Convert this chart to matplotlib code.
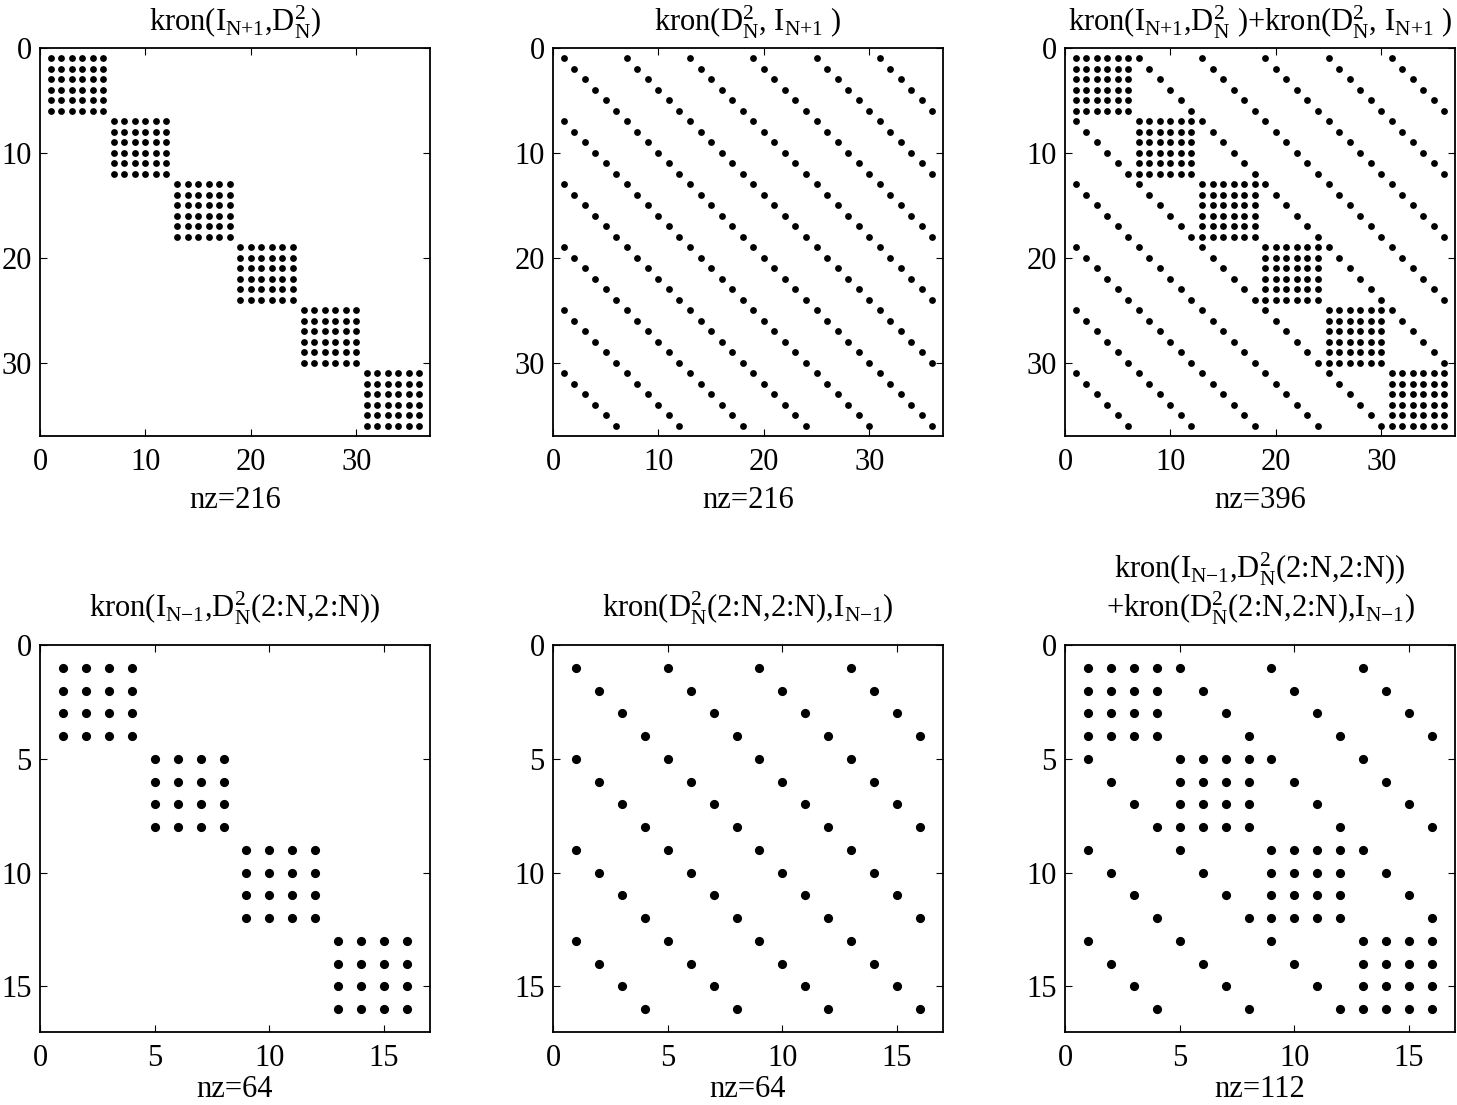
import numpy as np
import matplotlib
matplotlib.use("Agg")
from matplotlib import pyplot as plt

plt.rcParams['font.family'] = ['Liberation Serif', 'DejaVu Serif']
plt.rcParams['mathtext.fontset'] = 'custom'
plt.rcParams['mathtext.rm'] = 'Liberation Serif'
plt.rcParams['mathtext.it'] = 'Liberation Serif:italic'
plt.rcParams['mathtext.bf'] = 'Liberation Serif:bold'

# Sparsity pattern of the small matrices (N = 5)
D2_full = [[1, 1, 1, 1, 1, 1],
           [1, 1, 1, 1, 1, 1],
           [1, 1, 1, 1, 1, 1],
           [1, 1, 1, 1, 1, 1],
           [1, 1, 1, 1, 1, 1],
           [1, 1, 1, 1, 1, 1]]
I_full = [[1, 0, 0, 0, 0, 0],
          [0, 1, 0, 0, 0, 0],
          [0, 0, 1, 0, 0, 0],
          [0, 0, 0, 1, 0, 0],
          [0, 0, 0, 0, 1, 0],
          [0, 0, 0, 0, 0, 1]]
D2_inner = [[1, 1, 1, 1],
            [1, 1, 1, 1],
            [1, 1, 1, 1],
            [1, 1, 1, 1]]
I_inner = [[1, 0, 0, 0],
           [0, 1, 0, 0],
           [0, 0, 1, 0],
           [0, 0, 0, 1]]

A1 = np.kron(I_full, D2_full)
A2 = np.kron(D2_full, I_full)
A3 = ((A1 + A2) != 0).astype(int)
B1 = np.kron(I_inner, D2_inner)
B2 = np.kron(D2_inner, I_inner)
B3 = ((B1 + B2) != 0).astype(int)

Ip = r'I$_{\mathrm{N{+}1}}$'
Im = r'I$_{\mathrm{N{-}1}}$'
D2 = r'D$_{\mathrm{N}}^{\mathrm{2}}$'

titles = ['kron(' + Ip + ',' + D2 + ')',
          'kron(' + D2 + ', ' + Ip + ' )',
          'kron(' + Ip + ',' + D2 + ' )+kron(' + D2 + ', ' + Ip + ' )',
          'kron(' + Im + ',' + D2 + '(2:N,2:N))',
          'kron(' + D2 + '(2:N,2:N),' + Im + ')',
          'kron(' + Im + ',' + D2 + '(2:N,2:N))\n+kron(' + D2 + '(2:N,2:N),' + Im + ')']

mats = [A1, A2, A3, B1, B2, B3]

W, H = 1457, 1105
fig = plt.figure(figsize=(W / 100, H / 100), dpi=100)

lefts = [40, 553, 1065]
rows = [(48, 436), (645, 1032)]
title_pads = [12, 20]
label_pads = [6, 1]

for k, M in enumerate(mats):
    r, c = divmod(k, 3)
    top, bot = rows[r]
    ax = fig.add_axes([lefts[c] / W, 1 - bot / H, 390 / W, (bot - top) / H])
    rr, cc = np.nonzero(M)
    n = M.shape[0]
    ms = 4.9 if n > 20 else 6.6
    ax.plot(cc + 1, rr + 1, 'o', color='black', markersize=ms, markeredgewidth=0)
    ax.set_xlim(0, n + 1)
    ax.set_ylim(n + 1, 0)
    if n > 20:
        ticks = [0, 10, 20, 30]
    else:
        ticks = [0, 5, 10, 15]
    ax.set_xticks(ticks)
    ax.set_yticks(ticks)
    ax.tick_params(direction='in', top=True, right=True, length=5, width=0.8,
                   labelsize=22)
    ax.tick_params(axis='x', pad=9)
    ax.tick_params(axis='y', pad=6)
    for s in ax.spines.values():
        s.set_linewidth(1.3)
    ax.set_title(titles[k], fontsize=22, pad=title_pads[r], linespacing=1.05)
    ax.set_xlabel('nz=%d' % len(rr), fontsize=22, labelpad=label_pads[r])

fig.savefig('out.png', dpi=100)
